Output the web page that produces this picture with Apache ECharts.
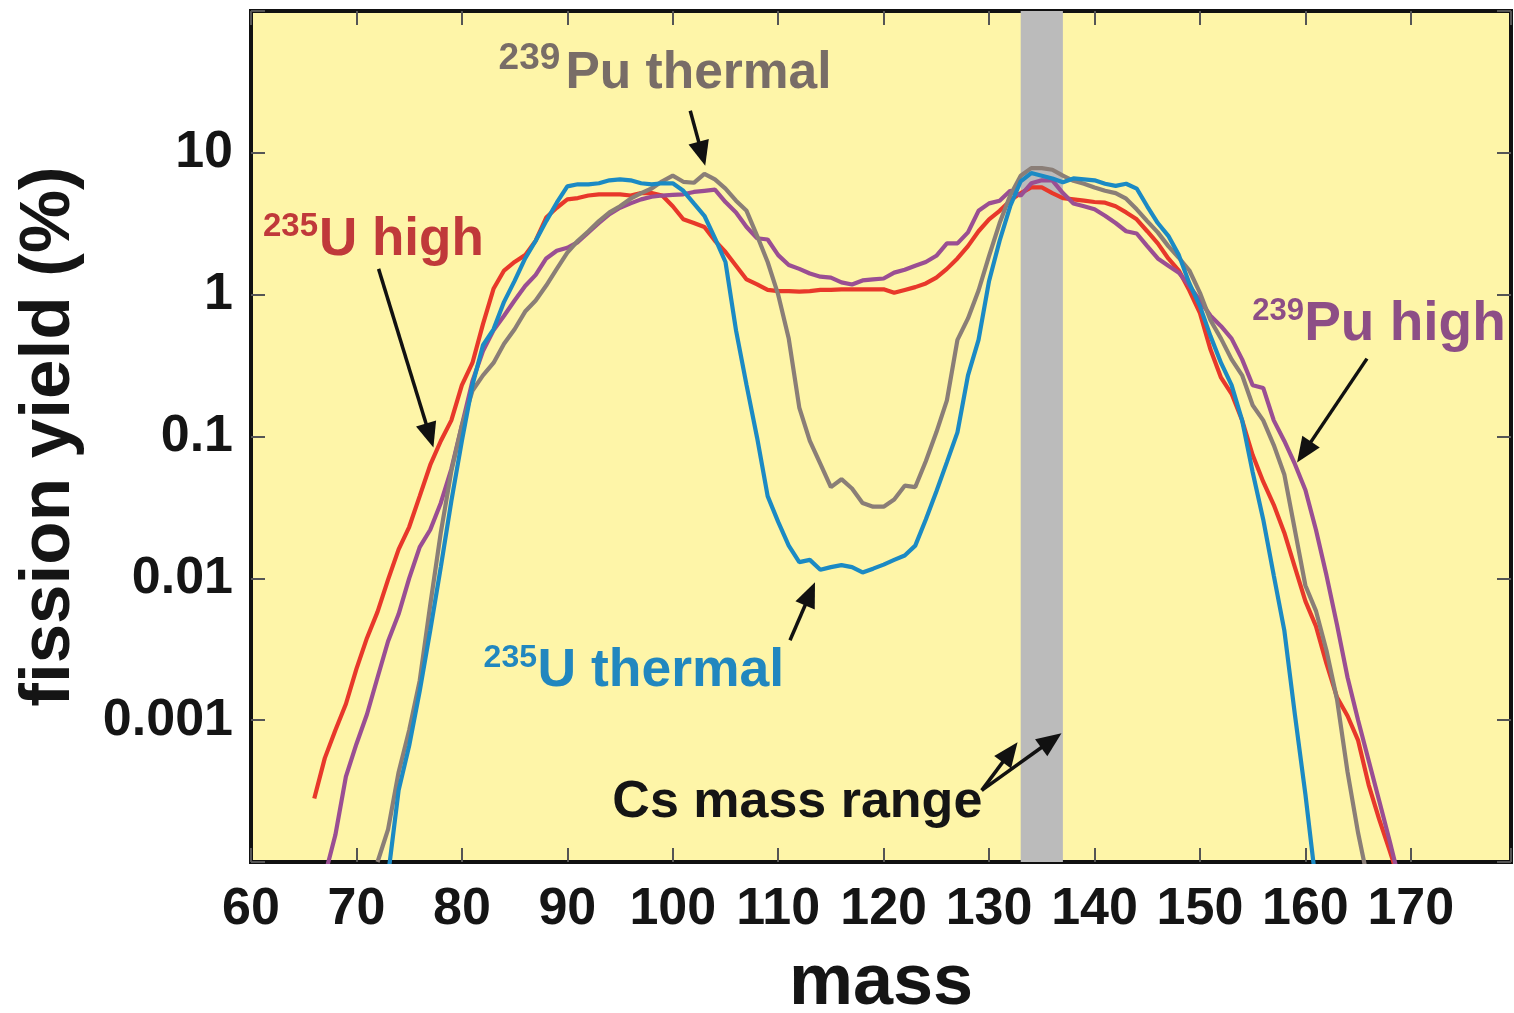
<!DOCTYPE html>
<html><head><meta charset="utf-8">
<script src="https://cdn.jsdelivr.net/npm/echarts@6/dist/echarts.min.js"></script>
<style>html,body{margin:0;padding:0;background:#fff}#c{width:1514px;height:1013px}</style>
</head><body><div id="c"></div>
<script>
// ---- data (mass number -> fission yield %) ----
const u235HighStart = 66;
const u235High = [2.8e-4,5.4e-4,8.5e-4,1.3e-3,2.3e-3,3.8e-3,5.8e-3,9.8e-3,0.016,0.023,
  0.038,0.063,0.093,0.13,0.23,0.33,0.62,1.1,1.48,1.7,
  1.9,2.4,3.5,4.1,4.7,4.8,5.0,5.1,5.1,5.1,
  5.0,5.2,5.2,5.0,4.2,3.4,3.2,3.0,2.4,2.0,
  1.6,1.28,1.18,1.08,1.06,1.06,1.05,1.06,1.08,1.08,
  1.09,1.09,1.09,1.09,1.09,1.03,1.08,1.13,1.2,1.32,
  1.52,1.8,2.2,2.8,3.4,3.9,4.6,5.2,5.7,5.7,
  5.2,4.8,4.7,4.6,4.5,4.45,4.2,3.8,3.4,2.8,
  2.3,1.8,1.48,1.07,0.74,0.41,0.26,0.20,0.13,0.074,
  0.048,0.033,0.021,0.012,6.9e-3,4.6e-3,2.5e-3,1.45e-3,1.07e-3,7.2e-4,
  3.5e-4,2.0e-4,1.2e-4,7e-5];

const u235ThermalStart = 73;
const u235Thermal = [8e-5,3.2e-4,6.6e-4,1.6e-3,4.3e-3,0.012,0.035,0.093,0.23,0.44,
  0.57,0.89,1.25,1.8,2.4,3.3,4.45,5.8,6.0,6.0,
  6.1,6.4,6.5,6.4,6.1,6.0,6.1,6.1,5.4,4.4,
  3.6,2.5,1.7,0.56,0.23,0.098,0.038,0.025,0.017,0.013,
  0.0135,0.0115,0.012,0.0124,0.012,0.011,0.0117,0.0125,0.0135,0.0145,
  0.017,0.026,0.041,0.066,0.107,0.27,0.48,1.25,2.4,4.2,
  6.3,7.2,6.9,6.6,6.2,6.6,6.5,6.4,6.05,5.85,
  6.05,5.6,4.2,3.2,2.6,1.9,1.2,0.83,0.51,0.33,
  0.23,0.13,0.056,0.026,0.0105,4.3e-3,1.1e-3,3.0e-4,7e-5];

const pu239ThermalStart = 72;
const pu239Thermal = [1e-4,1.7e-4,4.3e-4,8.5e-4,1.9e-3,6.5e-3,0.021,0.057,0.12,0.21,
  0.27,0.33,0.45,0.57,0.76,0.91,1.16,1.52,1.98,2.4,
  2.8,3.3,3.8,4.2,4.75,5.2,5.6,6.3,6.9,6.25,
  6.15,7.1,6.5,5.6,4.6,3.9,2.6,1.7,1.0,0.49,
  0.16,0.093,0.064,0.044,0.050,0.043,0.034,0.032,0.032,0.036,
  0.045,0.044,0.067,0.107,0.18,0.48,0.68,1.07,1.88,3.2,
  5.0,6.9,7.8,7.8,7.6,6.9,6.35,6.05,5.7,5.4,
  5.2,4.75,4.0,3.3,2.75,2.2,1.82,1.48,1.03,0.66,
  0.49,0.35,0.27,0.166,0.13,0.087,0.054,0.022,8.9e-3,5.9e-3,
  3.1e-3,1.4e-3,4.3e-4,1.6e-4,7e-5];

const pu239HighStart = 67;
const pu239High = [8e-5,1.55e-4,4.0e-4,6.8e-4,1.1e-3,2.0e-3,3.6e-3,5.6e-3,0.010,0.0166,
  0.022,0.034,0.059,0.12,0.245,0.40,0.56,0.71,0.91,1.15,
  1.38,1.8,2.04,2.14,2.35,2.75,3.2,3.7,4.1,4.4,
  4.7,4.9,5.0,5.05,5.1,5.3,5.4,5.5,4.5,3.8,
  3.0,2.5,2.45,1.9,1.62,1.52,1.41,1.34,1.32,1.22,
  1.18,1.26,1.28,1.3,1.43,1.5,1.6,1.7,1.88,2.3,
  2.3,2.75,3.9,4.4,4.6,5.4,5.0,6.1,6.4,6.4,
  5.2,4.4,4.2,4.0,3.6,3.2,2.8,2.7,2.2,1.8,
  1.6,1.43,1.15,0.91,0.71,0.60,0.49,0.35,0.23,0.22,
  0.13,0.093,0.064,0.042,0.022,0.0105,4.7e-3,2.0e-3,1.0e-3,5.2e-4,
  2.7e-4,1.4e-4,7e-5];

const xTickLabels = ['60','70','80','90','100','110','120','130','140','150','160','170'];
const yTickLabels = ['0.001','0.01','0.1','1','10'];
const csMassRange = [133, 137];

function pairs(start, vals){ return vals.map((v, i) => [start + i, v]); }

const C = {
  red: '#e8382a', blue: '#1b8ac4', gray: '#8a7e77', purple: '#9a4e93',
  redText: '#c0393a', blueText: '#2187bf', grayText: '#786d67', purpleText: '#8d4e86'
};

const chart = echarts.init(document.getElementById('c'), null, {renderer: 'canvas'});

const LBL_FONT = "'Liberation Sans', Arial, sans-serif";

function lineSeries(name, data, color, z){
  return {
    name, type: 'line', data, showSymbol: false, symbol: 'none', z,
    lineStyle: {color, width: 4.2}, itemStyle: {color}, clip: true, animation: false
  };
}

const yLabelOf = v => {
  const e = Math.round(Math.log10(v));
  const idx = e + 3;
  return (idx >= 0 && idx < yTickLabels.length) ? yTickLabels[idx] : '';
};

const tickStyle = {show: true, inside: true, length: 14, lineStyle: {color: '#555', width: 2}};

const option = {
  backgroundColor: '#ffffff',
  animation: false,
  grid: {left: 251, right: 3, top: 11, bottom: 151, show: true, containLabel: false, outerBoundsMode: 'none',
    backgroundColor: '#fef5a8', borderColor: '#111', borderWidth: 4},
  xAxis: [
    {type: 'value', min: 60, max: 179.5, interval: 10, position: 'bottom',
      axisLine: {show: false}, splitLine: {show: false}, axisTick: tickStyle,
      axisLabel: {show: true, margin: 22, fontSize: 52, fontWeight: 'bold', fontFamily: LBL_FONT, color: '#151515',
        formatter: v => xTickLabels.includes(String(v)) ? String(v) : ''},
      name: 'mass', nameLocation: 'middle', nameGap: 86,
      nameTextStyle: {fontSize: 72, fontWeight: 'bold', fontFamily: LBL_FONT, color: '#151515'}},
    {type: 'value', min: 60, max: 179.5, interval: 10, position: 'top',
      axisLine: {show: false}, splitLine: {show: false}, axisLabel: {show: false}, axisTick: tickStyle}
  ],
  yAxis: [
    {type: 'log', logBase: 10, min: 1e-4, max: 100, splitNumber: 6, position: 'left',
      axisLine: {show: false}, splitLine: {show: false}, minorTick: {show: false}, axisTick: tickStyle,
      axisLabel: {show: true, margin: 18, fontSize: 52, fontWeight: 'bold', fontFamily: LBL_FONT, color: '#151515',
        formatter: yLabelOf},
      name: 'fission yield (%)', nameLocation: 'middle', nameGap: 166, nameRotate: 90,
      nameTextStyle: {fontSize: 71, fontWeight: 'bold', fontFamily: LBL_FONT, color: '#151515'}},
    {type: 'log', logBase: 10, min: 1e-4, max: 100, splitNumber: 6, position: 'right',
      axisLine: {show: false}, splitLine: {show: false}, axisLabel: {show: false}, minorTick: {show: false},
      axisTick: tickStyle}
  ],
  series: [
    {name: 'Cs mass range', type: 'line', data: [], z: 1, silent: true,
      markArea: {silent: true, itemStyle: {color: '#bbbbbb'},
        data: [[{xAxis: csMassRange[0]}, {xAxis: csMassRange[1]}]]}},
    lineSeries('235U high', pairs(u235HighStart, u235High), C.red, 3),
    lineSeries('239Pu high', pairs(pu239HighStart, pu239High), C.purple, 4),
    lineSeries('239Pu thermal', pairs(pu239ThermalStart, pu239Thermal), C.gray, 5),
    lineSeries('235U thermal', pairs(u235ThermalStart, u235Thermal), C.blue, 6)
  ]
};
chart.setOption(option);

// ---- annotations, anchored in data coordinates ----
const P = (m, v) => chart.convertToPixel({xAxisIndex: 0, yAxisIndex: 0}, [m, v]);

const labels = [
  {sup: '239', main: 'Pu thermal', color: C.grayText, supSize: 37, mainSize: 51.5, supAt: [83.48, 45.9], mainAt: [89.82, 36.0]},
  {sup: '235', main: 'U high', color: C.redText, supSize: 33, mainSize: 53, supAt: [61.14, 3.01], mainAt: [66.44, 2.40]},
  {sup: '239', main: 'Pu high', color: C.purpleText, supSize: 31, mainSize: 55, supAt: [154.95, 0.759], mainAt: [159.88, 0.615]},
  {sup: '235', main: 'U thermal', color: C.blueText, supSize: 32, mainSize: 53.5, supAt: [82.06, 2.74e-3], mainAt: [87.17, 2.21e-3]},
  {sup: '', main: 'Cs mass range', color: '#151515', supSize: 0, mainSize: 52, supAt: null, mainAt: [94.27, 2.6e-4]}
];
const arrows = [
  {tail: [72.1, 1.52], tip: [77.3, 0.0838]},
  {tail: [101.66, 19.8], tip: [103.08, 8.1]},
  {tail: [111.12, 3.66e-3], tip: [113.49, 9.37e-3]},
  {tail: [165.84, 0.354], tip: [159.21, 0.0656]},
  {tail: [129.3, 3.2e-4], tip: [132.7, 7.0e-4]},
  {tail: [129.3, 3.2e-4], tip: [136.87, 8.1e-4]}
];

const g = [];
labels.forEach(l => {
  if (l.sup) {
    const [sx, sy] = P(l.supAt[0], l.supAt[1]);
    g.push({type: 'text', x: sx, y: sy, z: 50, style: {text: l.sup, fill: l.color,
      font: 'bold ' + l.supSize + 'px ' + LBL_FONT, textAlign: 'left', textVerticalAlign: 'middle'}});
  }
  const [mx, my] = P(l.mainAt[0], l.mainAt[1]);
  g.push({type: 'text', x: mx, y: my, z: 50, style: {text: l.main, fill: l.color,
    font: 'bold ' + l.mainSize + 'px ' + LBL_FONT, textAlign: 'left', textVerticalAlign: 'middle'}});
});
arrows.forEach(a => {
  const [x1, y1] = P(a.tail[0], a.tail[1]);
  const [x2, y2] = P(a.tip[0], a.tip[1]);
  const dx = x2 - x1, dy = y2 - y1, L = Math.hypot(dx, dy), ux = dx / L, uy = dy / L;
  const hl = 25, hw = 10.5;
  const bx = x2 - ux * hl, by = y2 - uy * hl;
  g.push({type: 'line', z: 50, shape: {x1, y1, x2: bx + ux * 2, y2: by + uy * 2},
    style: {stroke: '#111', lineWidth: 3.5}});
  g.push({type: 'polygon', z: 50, shape: {points: [[x2, y2], [bx - uy * hw, by + ux * hw], [bx + uy * hw, by - ux * hw]]},
    style: {fill: '#111'}});
});
chart.setOption({graphic: g});
</script>
</body></html>
